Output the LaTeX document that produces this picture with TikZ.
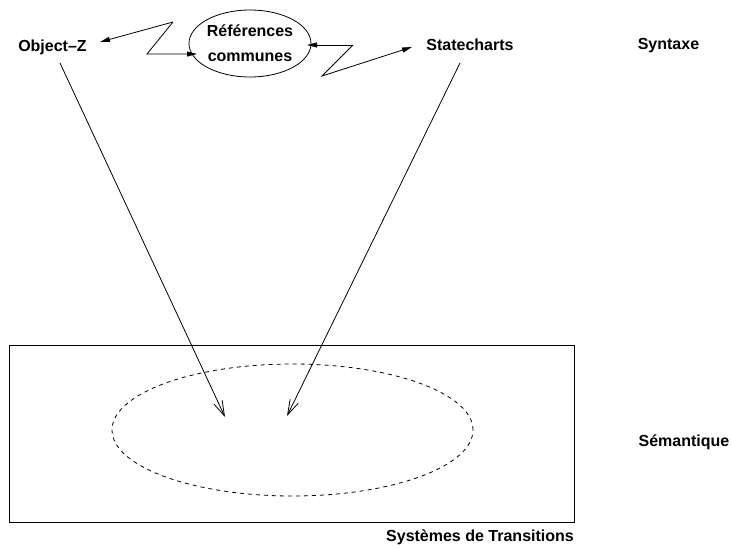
\documentclass[tikz,border=0pt]{standalone}
\usepackage{fontspec}
\setmainfont{Liberation Sans}
\usetikzlibrary{arrows.meta,shapes.geometric}
\begin{document}
\begin{tikzpicture}[x=1pt,y=-1pt,line width=0.8pt,
  lbl/.style={font=\fontsize{16}{25}\selectfont\bfseries, inner sep=0pt, anchor=base},
  zig/.style={-{Triangle[length=10pt,width=5pt]}},
  big/.style={-{Straight Barb[length=15pt,width=9pt]}}]
\useasboundingbox (0,0) rectangle (731,549);
\node[lbl] (objz) at (52.5,51) {Object\textendash Z};
\node[lbl] (state) at (470,50) {Statecharts};
\node[lbl] (syn) at (668.5,49) {Syntaxe};
\node[lbl] (sem) at (684,446.5) {Sémantique};
\node[lbl] (sys) at (480,541.5) {Systèmes de Transitions};
\node[draw, ellipse, minimum width=106pt, minimum height=67pt, inner sep=0pt,
  align=center, font=\fontsize{16}{25}\selectfont\bfseries] (ref) at (250,43.5) {Références\\communes};
\node[draw, rectangle, minimum width=565pt, minimum height=177pt, inner sep=0pt] (box) at (291.5,433.5) {};
\node[draw, dash pattern=on 4pt off 4pt, ellipse, minimum width=361pt, minimum height=132pt, inner sep=0pt] (sem_e) at (292.5,430) {};
% zigzag connectors
\coordinate (z1a) at (173,22);
\coordinate (z1b) at (147,54);
\coordinate (oz) at (100,42);
\coordinate (re) at (197,54);
\draw[zig] (z1a) -- (oz);
\draw[zig] (z1a) -- (z1b) -- (re);
\coordinate (z2a) at (353,45);
\coordinate (z2b) at (322,76);
\coordinate (rr) at (307,45);
\coordinate (sc) at (412,47);
\draw[zig] (z2a) -- (rr);
\draw[zig] (z2a) -- (z2b) -- (sc);
% big arrows
\coordinate (s1) at (60,63);
\coordinate (t1) at (225,417);
\coordinate (s2) at (460,63);
\coordinate (t2) at (287,416);
\draw[big] (s1) -- (t1);
\draw[big] (s2) -- (t2);
\end{tikzpicture}
\end{document}
